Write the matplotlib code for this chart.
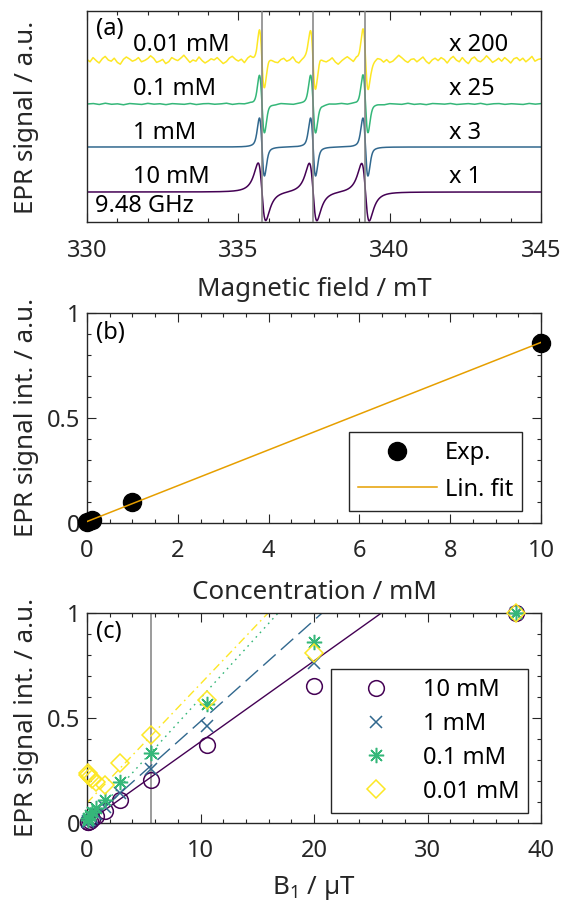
import numpy as np
import matplotlib
matplotlib.use('Agg')
import matplotlib.pyplot as plt
from matplotlib.ticker import MultipleLocator, FuncFormatter

# ---------------- data ----------------
# (a) EPR spectra (line parameters)
trace_labels = ['10 mM', '1 mM', '0.1 mM', '0.01 mM']
trace_scales = ['x 1', 'x 3', 'x 25', 'x 200']
line_centers = [335.78, 337.47, 339.20]          # mT
pp_width = [0.25, 0.165, 0.165, 0.165]          # peak-to-peak width, mT
lor_frac = [1.0, 0.4, 0.3, 0.3]                  # Lorentzian fraction
trace_amp = [29.0, 29.0, 29.0, 29.0]            # a.u.
trace_offset = [30.0, 75.0, 118.0, 162.0]       # a.u.
field_min, field_max = 330.0, 345.0

# baseline noise of the two weakest traces (a.u., 0.1 mT and 0.2 mT steps)
noise_001 = [0.5, -1.5, 2.0, -0.5, -2.5, 1.0, 3.0, 0.0, -1.0, 1.5,
             -2.0, -3.5, 0.5, 2.5, 1.0, -1.0, 0.0, 2.0, -1.5, -0.5,
             1.0, 3.5, 1.5, -2.0, -1.0, 0.5, -3.0, -1.5, 2.0, 0.5,
             -0.5, 1.5, 4.0, 1.0, -2.0, 0.0, -1.0, 2.5, -0.5, -2.5,
             -1.0, 1.0, 0.0, 2.0, -0.5, -3.0, -1.5, 1.5, 3.0, 0.5,
             -1.0, 0.5, -2.5, 1.0, 2.5, 0.0, -1.5, 1.0, -0.5, 2.0,
             3.0, 1.0, -1.0, -2.0, 0.5, 1.5, -1.0, 0.0, 2.5, -1.5,
             -3.0, -0.5, 1.0, 2.0, 0.0, -2.0, 1.5, 3.5, 0.5, -1.0,
             0.0, 2.0, -1.5, -3.5, -1.0, 1.0, 2.5, 0.5, -2.0, 1.0,
             -0.5, 1.5, 3.0, -1.0, -2.5, 0.0, 2.0, 1.0, -1.5, 0.5,
             -2.0, -1.0, 1.5, 4.0, 2.0, -0.5, -2.0, 0.5, 1.0, -1.5,
             0.5, 2.5, -1.0, -3.0, 0.0, 1.5, -0.5, 2.0, 0.5, -2.5,
             1.0, 3.0, 0.0, -1.5, 2.0, -1.0, -3.0, 1.0, 2.5, -0.5,
             -1.5, 0.5, 3.5, 1.0, -2.0, -0.5, 1.5, -1.0, 2.0, 0.0,
             -2.5, 1.0, 2.0, -0.5, 1.5, -1.5, 0.5, 3.0, -1.0, 0.5, 1.0]
noise_01 = [0, 0.5, -0.5, 0.8, -0.3, 0.2, -0.8, 0.5, 0, -0.5, 0.7, -0.2, 0.3, -0.7, 0.4,
            0, -0.4, 0.6, -0.6, 0.2, 0.5, -0.3, 0, 0.8, -0.5, 0.3, -0.2, 0.6, -0.7, 0.1,
            0.4, -0.4, 0.7, 0, -0.6, 0.3, 0.5, -0.3, 0.2, -0.8, 0.4, 0, 0.6, -0.4, 0.3,
            -0.5, 0.7, -0.2, 0.1, -0.6, 0.5, 0, -0.3, 0.8, -0.4, 0.2, -0.7, 0.5, 0.3, -0.2,
            0.6, -0.5, 0, 0.4, -0.3, 0.7, -0.6, 0.2, 0.5, -0.4, 0.3, 0, -0.5, 0.6, -0.2, 0.4]

# (b) concentration dependence
conc = [0.01, 0.1, 1.0, 10.0]                   # mM
conc_signal = [0.003, 0.012, 0.097, 0.858]

# (c) power saturation
b1 = [0.07, 0.13, 0.23, 0.42, 0.8, 1.55, 2.95, 5.6, 10.6, 20.0, 37.8]   # uT
sat_10mM = [0.002, 0.004, 0.008, 0.016, 0.03, 0.057, 0.11, 0.203, 0.372, 0.652, 1.0]
sat_1mM = [0.004, 0.007, 0.012, 0.021, 0.04, 0.075, 0.142, 0.258, 0.46, 0.762, 1.0]
sat_01mM = [0.015, 0.022, 0.037, 0.052, 0.068, 0.108, 0.195, 0.33, 0.564, 0.86, 1.0]
sat_001mM = [0.235, 0.228, 0.218, 0.206, 0.195, 0.18, 0.286, 0.417, 0.585, 0.81, 1.0]
fit_slope = [0.0385, 0.0482, 0.0593, 0.0567]
fit_intercept = [0.0, 0.0, 0.0, 0.094]
b1_ref = 5.6

# ---------------- style ----------------
plt.rcParams['font.family'] = ['Noto Sans', 'DejaVu Sans']
plt.rcParams['mathtext.fontset'] = 'custom'
plt.rcParams['mathtext.rm'] = 'Noto Sans'
plt.rcParams['mathtext.it'] = 'Noto Sans:italic'
FS = 17
LFS = 18.7
TXT = '#262626'
colors = ['#440154', '#31688e', '#35b779', '#fde725']
fit_orange = '#e69f00'

W, H = 561, 901
fig = plt.figure(figsize=(W / 100, H / 100), dpi=100)


def rect(l, t, r, b):
    return [l / W, 1 - b / H, (r - l) / W, (b - t) / H]


axA = fig.add_axes(rect(87, 11, 541, 222))
axB = fig.add_axes(rect(87, 312.7, 541, 522.7))
axC = fig.add_axes(rect(87, 612.7, 541, 822.7))

fmt = FuncFormatter(lambda v, p: '%g' % v)
for ax in (axA, axB, axC):
    for s in ax.spines.values():
        s.set_color(TXT)
        s.set_linewidth(1.0)
    ax.tick_params(which='both', direction='in', top=True, right=True,
                   colors=TXT, labelsize=FS, width=0.8)
    ax.tick_params(axis='x', which='both', pad=12)
    ax.tick_params(axis='y', which='both', pad=5)
    ax.tick_params(which='major', length=6.3)
    ax.tick_params(which='minor', length=3.2)

# ---------------- (a) ----------------
B = np.linspace(field_min, field_max, 3001)


def lineshape(Bf, width, f):
    G = width * np.sqrt(3) / 2
    s = width / 2
    tot = np.zeros_like(Bf)
    for c in line_centers:
        xl = (Bf - c) / G
        xg = (Bf - c) / s
        lor = -2 * xl / (1 + xl ** 2) ** 2 / 0.6495
        gau = -xg * np.exp(-xg ** 2 / 2) / 0.6065
        tot += f * lor + (1 - f) * gau
    return tot / tot.max()


noise_grid_1 = np.linspace(field_min, field_max, len(noise_001))
noise_grid_2 = np.linspace(field_min, field_max, len(noise_01))
for i in range(4):
    y = trace_offset[i] + trace_amp[i] * lineshape(B, pp_width[i], lor_frac[i])
    if i == 3:
        y = y + 1.2 * np.interp(B, noise_grid_1, noise_001)
    if i == 2:
        y = y + np.interp(B, noise_grid_2, noise_01)
    axA.plot(B, y, color=colors[i], lw=1.1, zorder=2)
for c in line_centers:
    axA.axvline(c, color='#808080', lw=1.1, zorder=3)

axA.set_xlim(field_min, field_max)
axA.set_ylim(0, 211)
axA.xaxis.set_major_locator(MultipleLocator(5))
axA.xaxis.set_minor_locator(MultipleLocator(1))
axA.set_yticks([])
axA.xaxis.set_major_formatter(fmt)


def tpx(ax, x, y, s, **kw):
    # position given in figure pixels (layout only)
    l, b, w, h = ax.get_position().bounds
    ax.text((x / W - l) / w, ((1 - y / H) - b) / h, s, transform=ax.transAxes,
            fontsize=FS, color='black', va='center', **kw)


tpx(axA, 96, 29, '(a)')
row_y = [177, 133.3, 89.3, 45]
for i in range(4):
    tpx(axA, 133, row_y[i], trace_labels[i])
    tpx(axA, 449, row_y[i], trace_scales[i])
tpx(axA, 95, 206, '9.48 GHz')

# ---------------- (b) ----------------
axB.plot(conc, conc_signal, 'o', color='black', ms=13, label='Exp.', zorder=3, clip_on=False)
p = np.polyfit(conc, conc_signal, 1)
xfit = np.array([0.0, 10.0])
axB.plot(xfit, np.polyval(p, xfit), color=fit_orange, lw=1.1, label='Lin. fit', zorder=4)
axB.set_xlim(0, 10)
axB.set_ylim(0, 1)
axB.xaxis.set_major_locator(MultipleLocator(2))
axB.xaxis.set_minor_locator(MultipleLocator(0.5))
axB.yaxis.set_major_locator(MultipleLocator(0.5))
axB.yaxis.set_minor_locator(MultipleLocator(0.1))
axB.xaxis.set_major_formatter(fmt)
axB.yaxis.set_major_formatter(fmt)
legB = axB.legend(loc='lower right', bbox_to_anchor=(0.958, 0.057), borderaxespad=0,
                  fontsize=FS, frameon=True, fancybox=False, edgecolor=TXT, framealpha=1,
                  handlelength=3.35, handletextpad=0.34, borderpad=0.38, labelspacing=0.55)
legB.get_frame().set_linewidth(1.0)
tpx(axB, 96, 333, '(b)')

# ---------------- (c) ----------------
axC.axvline(b1_ref, color='#808080', lw=1.1, zorder=1)
sat = [sat_10mM, sat_1mM, sat_01mM, sat_001mM]
mk = [dict(marker='o', ms=11.3, mfc='none', mew=1.1),
      dict(marker='x', ms=8.5, mew=1.1),
      dict(marker=(8, 2, 0), ms=11, mew=1.1),
      dict(marker='D', ms=8.7, mfc='none', mew=1.1)]
ls = [dict(ls='-'), dict(dashes=(12, 5)), dict(dashes=(1.2, 3.2)), dict(dashes=(6, 3, 1.2, 3))]
xl = np.array([0.0, 40.0])
for i in range(4):
    axC.plot(xl, fit_intercept[i] + fit_slope[i] * xl, color=colors[i], lw=1.0, zorder=2, **ls[i])
handles = []
for i in range(4):
    h, = axC.plot(b1, sat[i], ls='none', color=colors[i], label=trace_labels[i],
                  zorder=3, clip_on=False, **mk[i])
    handles.append(h)
axC.set_xlim(0, 40)
axC.set_ylim(0, 1)
axC.xaxis.set_major_locator(MultipleLocator(10))
axC.xaxis.set_minor_locator(MultipleLocator(2))
axC.yaxis.set_major_locator(MultipleLocator(0.5))
axC.yaxis.set_minor_locator(MultipleLocator(0.1))
axC.xaxis.set_major_formatter(fmt)
axC.yaxis.set_major_formatter(fmt)
legC = axC.legend(handles=handles, loc='lower right', bbox_to_anchor=(0.972, 0.048),
                  borderaxespad=0, fontsize=FS, frameon=True, fancybox=False,
                  edgecolor=TXT, framealpha=1, handlelength=3.0, handletextpad=0.5,
                  borderpad=0.38, labelspacing=0.42)
legC.get_frame().set_linewidth(1.0)
tpx(axC, 96, 632, '(c)')

# ---------------- axis labels ----------------
def flab(x, y, s, **kw):
    fig.text(x / W, 1 - y / H, s, fontsize=LFS, color=TXT, **kw)


flab(314, 296, 'Magnetic field / mT', ha='center', va='baseline')
flab(314, 599, 'Concentration / mM', ha='center', va='baseline')
flab(314, 894, r'B$_\mathregular{1}$ / µT', ha='center', va='baseline')
for yc, s in [(117, 'EPR signal / a.u.'), (417, 'EPR signal int. / a.u.'),
              (717, 'EPR signal int. / a.u.')]:
    flab(33, yc, s, ha='center', va='baseline', rotation=90, rotation_mode='anchor')

fig.savefig('out.png', dpi=100)
